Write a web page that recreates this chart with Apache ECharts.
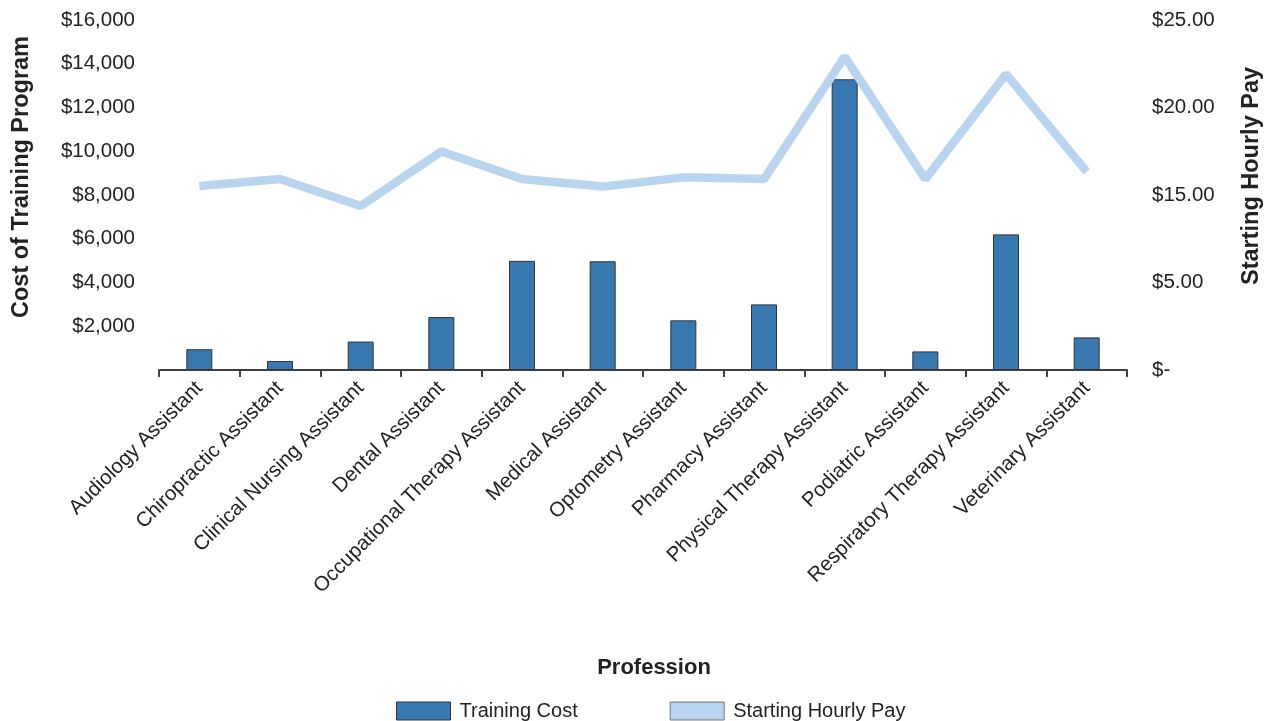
<!DOCTYPE html>
<html>
<head>
<meta charset="utf-8">
<script src="https://cdn.jsdelivr.net/npm/echarts@6/dist/echarts.min.js"></script>
<style>
html,body{margin:0;padding:0;background:#fff;}
#chart{width:1273px;height:721px;}
</style>
</head>
<body>
<div id="chart"></div>
<script>
const categories = [
  'Audiology Assistant','Chiropractic Assistant','Clinical Nursing Assistant','Dental Assistant',
  'Occupational Therapy Assistant','Medical Assistant','Optometry Assistant','Pharmacy Assistant',
  'Physical Therapy Assistant','Podiatric Assistant','Respiratory Therapy Assistant','Veterinary Assistant'
];
const trainingCost = [950, 410, 1300, 2420, 4990, 4970, 2270, 3000, 13290, 850, 6200, 1490];
const hourlyPay = [13.14, 13.64, 11.71, 15.6, 13.64, 13.1, 13.76, 13.64, 22.38, 13.64, 21.14, 14.17];
const leftTickLabels = ['', '$2,000', '$4,000', '$6,000', '$8,000', '$10,000', '$12,000', '$14,000', '$16,000'];
const rightTickLabels = ['$-', '$5.00', '$15.00', '$20.00', '$25.00'];

const FONT = '"Liberation Sans", Arial, Helvetica, sans-serif';
const TXT = '#222222';

const chart = echarts.init(document.getElementById('chart'), null, {renderer: 'canvas'});
chart.setOption({
  animation: false,
  textStyle: {fontFamily: FONT, color: TXT},
  grid: {left: 159, right: 146, top: 20, bottom: 351, containLabel: false},
  legend: {
    left: 396, top: 701, padding: 0,
    itemWidth: 54, itemHeight: 18, itemGap: 92,
    textStyle: {fontFamily: FONT, fontSize: 20, color: TXT, padding: [0, 0, 0, 4]},
    data: [
      {name: 'Training Cost', icon: 'rect', itemStyle: {color: '#3878b0', borderColor: '#333', borderWidth: 1}},
      {name: 'Starting Hourly Pay', icon: 'rect', itemStyle: {color: '#b8d4ee', borderColor: '#777', borderWidth: 1}}
    ]
  },
  xAxis: {
    type: 'category',
    data: categories,
    name: 'Profession',
    nameLocation: 'middle',
    nameGap: 287,
    nameTextStyle: {fontFamily: FONT, fontSize: 22, fontWeight: 'bold', color: TXT, padding: [0, 0, 0, 22]},
    axisLine: {show: true, lineStyle: {color: '#404040', width: 2}},
    axisTick: {show: true, length: 7, lineStyle: {color: '#404040', width: 2}},
    axisLabel: {rotate: 45, interval: 0, margin: 15, fontFamily: FONT, fontSize: 20.5, color: TXT},
    splitLine: {show: false}
  },
  yAxis: [
    {
      type: 'value', min: 0, max: 16000, interval: 2000,
      axisLine: {show: false}, axisTick: {show: false}, splitLine: {show: false},
      axisLabel: {
        margin: 24, fontFamily: FONT, fontSize: 20.5, color: TXT,
        formatter: (v) => leftTickLabels[Math.round(v / 2000)]
      }
    },
    {
      type: 'value', min: 0, max: 25, interval: 6.25, position: 'right',
      axisLine: {show: false}, axisTick: {show: false}, splitLine: {show: false},
      axisLabel: {
        margin: 25, fontFamily: FONT, fontSize: 20.5, color: TXT,
        formatter: (v) => rightTickLabels[Math.round(v / 6.25)]
      }
    }
  ],
  graphic: [
    {
      type: 'text', x: 22, y: 177, rotation: Math.PI / 2,
      style: {text: 'Cost of Training Program', font: 'bold 23.5px ' + FONT, fill: TXT, textAlign: 'center', textVerticalAlign: 'middle'}
    },
    {
      type: 'text', x: 1252, y: 176, rotation: Math.PI / 2,
      style: {text: 'Starting Hourly Pay', font: 'bold 23.5px ' + FONT, fill: TXT, textAlign: 'center', textVerticalAlign: 'middle'}
    }
  ],
  series: [
    {
      name: 'Training Cost', type: 'bar', yAxisIndex: 0, data: trainingCost,
      barWidth: 26,
      itemStyle: {color: '#3878b0', borderColor: '#333333', borderWidth: 1}
    },
    {
      name: 'Starting Hourly Pay', type: 'line', yAxisIndex: 1, data: hourlyPay,
      symbol: 'none', lineStyle: {color: '#b8d4ee', width: 8.5}, itemStyle: {color: '#b8d4ee'}
    }
  ]
});
</script>
</body>
</html>
